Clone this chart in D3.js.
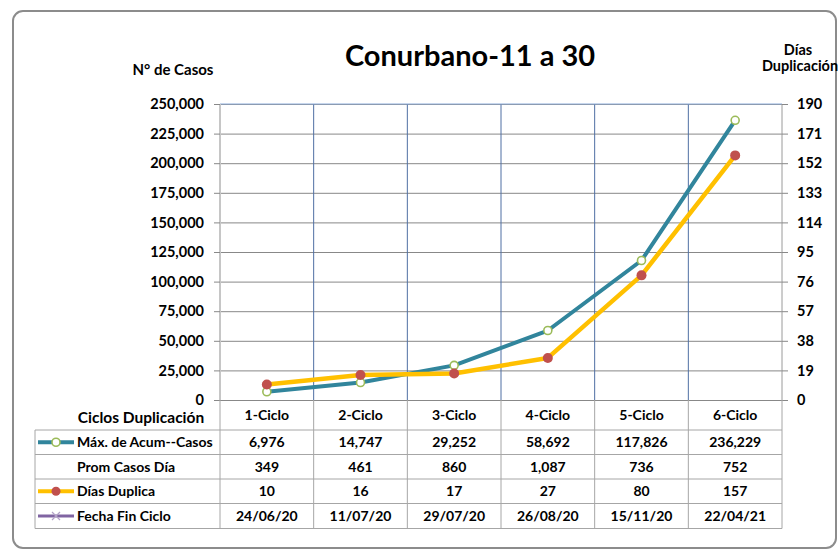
<!DOCTYPE html>
<html>
<head>
<meta charset="utf-8">
<script src="https://cdn.jsdelivr.net/npm/d3@7"></script>
<style>
  body { margin: 0; background: #fff; }
  text { font-family: Lato, "Open Sans", sans-serif; font-weight: bold; fill: #000; }
</style>
</head>
<body>
<div id="chart"></div>
<script>
// data
var ciclos = ['1-Ciclo', '2-Ciclo', '3-Ciclo', '4-Ciclo', '5-Ciclo', '6-Ciclo'];
var maxAcumCasos = [6976, 14747, 29252, 58692, 117826, 236229];
var promCasosDia = [349, 461, 860, 1087, 736, 752];
var diasDuplica = [10, 16, 17, 27, 80, 157];
var fechaFinCiclo = ['24/06/20', '11/07/20', '29/07/20', '26/08/20', '15/11/20', '22/04/21'];
var leftTicks = d3.range(0, 250001, 25000);
var rightTicks = d3.range(0, 191, 19);

var svg = d3.select("#chart").append("svg").attr("width", 839).attr("height", 552);

var plot = {left: 220, right: 782, top: 104, bottom: 400};

// outer frame
svg.append("rect")
  .attr("x", 13).attr("y", 11).attr("width", 823).attr("height", 537)
  .attr("rx", 10).attr("ry", 10)
  .attr("fill", "#fff").attr("stroke", "#8c8c8c").attr("stroke-width", 2);

var x = d3.scaleBand().domain(ciclos).range([plot.left, plot.right]);
var yL = d3.scaleLinear().domain([0, 250000]).range([plot.bottom, plot.top]);
var yR = d3.scaleLinear().domain([0, 190]).range([plot.bottom, plot.top]);

// horizontal grid
svg.append("g")
  .attr("transform", "translate(" + plot.left + ",0)")
  .call(d3.axisLeft(yL).tickValues(leftTicks).tickSize(-(plot.right - plot.left)).tickFormat(""))
  .call(function (g) { g.select(".domain").remove(); })
  .selectAll("line").attr("stroke", "#888");

// vertical column lines inside plot
var bounds = ciclos.map(function (d) { return x(d); }).concat([plot.right]);
svg.selectAll(".vgrid")
  .data(bounds.slice(1, -1))
  .enter().append("line")
  .attr("class", "vgrid")
  .attr("x1", function (d) { return d; }).attr("x2", function (d) { return d; })
  .attr("y1", plot.top).attr("y2", plot.bottom)
  .attr("stroke", "#4f6fa3").attr("stroke-width", 1);

// plot border
svg.append("line").attr("x1", plot.left).attr("x2", plot.right).attr("y1", plot.top).attr("y2", plot.top)
  .attr("stroke", "#8eaedc").attr("stroke-width", 1.2);
svg.append("line").attr("x1", plot.left).attr("x2", plot.left).attr("y1", plot.top).attr("y2", plot.bottom)
  .attr("stroke", "#c6c6c6").attr("stroke-width", 2);
svg.append("line").attr("x1", plot.right).attr("x2", plot.right).attr("y1", plot.top).attr("y2", plot.bottom)
  .attr("stroke", "#9a9a9a").attr("stroke-width", 1);

// left axis
var gL = svg.append("g")
  .attr("transform", "translate(" + plot.left + ",0)")
  .call(d3.axisLeft(yL).tickValues(leftTicks).tickSize(6).tickPadding(10).tickFormat(d3.format(",")));
gL.select(".domain").remove();
gL.selectAll("line").attr("stroke", "#888");
gL.selectAll("text").style("font-size", "14.5px").style("font-family", "Lato, sans-serif");

// right axis
var gR = svg.append("g")
  .attr("transform", "translate(" + plot.right + ",0)")
  .call(d3.axisRight(yR).tickValues(rightTicks).tickSize(6).tickPadding(9));
gR.select(".domain").remove();
gR.selectAll("line").attr("stroke", "#888");
gR.selectAll("text").style("font-size", "14.5px").style("font-family", "Lato, sans-serif");

// titles
svg.append("text").attr("x", 470).attr("y", 66).attr("text-anchor", "middle")
  .style("font-size", "29px").text("Conurbano-11 a 30");
svg.append("text").attr("x", 173).attr("y", 75).attr("text-anchor", "middle")
  .style("font-size", "15px").text("N° de Casos");
svg.append("text").attr("x", 798).attr("y", 55).attr("text-anchor", "middle")
  .style("font-size", "14.5px").text("Días");
svg.append("text").attr("x", 800).attr("y", 71).attr("text-anchor", "middle")
  .style("font-size", "14.5px").text("Duplicación");

// lines
var cx = function (i) { return x(ciclos[i]) + x.bandwidth() / 2; };

svg.append("path")
  .datum(maxAcumCasos)
  .attr("fill", "none").attr("stroke", "#31859c").attr("stroke-width", 4)
  .attr("stroke-linejoin", "round")
  .attr("d", d3.line().x(function (d, i) { return cx(i); }).y(function (d) { return yL(d); }));

svg.append("path")
  .datum(diasDuplica)
  .attr("fill", "none").attr("stroke", "#ffc000").attr("stroke-width", 4.5)
  .attr("stroke-linejoin", "round")
  .attr("d", d3.line().x(function (d, i) { return cx(i); }).y(function (d) { return yR(d); }));

svg.selectAll(".mAcum")
  .data(maxAcumCasos)
  .enter().append("circle")
  .attr("class", "mAcum")
  .attr("cx", function (d, i) { return cx(i); })
  .attr("cy", function (d) { return yL(d); })
  .attr("r", 4)
  .attr("fill", "#fff").attr("stroke", "#9bbb59").attr("stroke-width", 1.6);

svg.selectAll(".mDias")
  .data(diasDuplica)
  .enter().append("circle")
  .attr("class", "mDias")
  .attr("cx", function (d, i) { return cx(i); })
  .attr("cy", function (d) { return yR(d); })
  .attr("r", 5)
  .attr("fill", "#c0504d");

// data table
var rowTop = [430, 454.5, 479, 503.5, 528.5];
var tableLeft = 35;
var gridColor = "#a6a6a6";

// header row column lines
svg.selectAll(".hcol")
  .data(bounds)
  .enter().append("line")
  .attr("class", "hcol")
  .attr("x1", function (d) { return d; }).attr("x2", function (d) { return d; })
  .attr("y1", plot.bottom).attr("y2", rowTop[4])
  .attr("stroke", gridColor).attr("stroke-width", 1);

svg.selectAll(".hrow")
  .data(rowTop)
  .enter().append("line")
  .attr("class", "hrow")
  .attr("x1", tableLeft).attr("x2", plot.right)
  .attr("y1", function (d) { return d; }).attr("y2", function (d) { return d; })
  .attr("stroke", gridColor).attr("stroke-width", 1);

svg.append("line").attr("x1", tableLeft).attr("x2", tableLeft)
  .attr("y1", rowTop[0]).attr("y2", rowTop[4])
  .attr("stroke", gridColor);

// header labels
svg.append("text").attr("x", 141).attr("y", 418).attr("text-anchor", "middle")
  .attr("dy", "0.35em").style("font-size", "15.5px").text("Ciclos Duplicación");
svg.selectAll(".catLabel")
  .data(ciclos)
  .enter().append("text")
  .attr("class", "catLabel")
  .attr("x", function (d) { return x(d) + x.bandwidth() / 2; })
  .attr("y", 415).attr("dy", "0.35em").attr("text-anchor", "middle")
  .style("font-size", "14px")
  .text(function (d) { return d; });

var fmt = d3.format(",");
var rows = [
  {label: "Máx. de Acum--Casos", values: maxAcumCasos.map(fmt), line: "#31859c", marker: "open"},
  {label: "Prom Casos Día", values: promCasosDia.map(fmt), line: null},
  {label: "Días Duplica", values: diasDuplica.map(fmt), line: "#ffc000", marker: "dot"},
  {label: "Fecha Fin Ciclo", values: fechaFinCiclo, line: "#8064a2", marker: "x"}
];

rows.forEach(function (r, k) {
  var cy = (rowTop[k] + rowTop[k + 1]) / 2;
  svg.append("text").attr("x", 77).attr("y", cy).attr("dy", "0.35em")
    .style("font-size", "14px").text(r.label);
  svg.selectAll(".cell" + k)
    .data(r.values)
    .enter().append("text")
    .attr("class", "cell" + k)
    .attr("x", function (d, i) { return cx(i); })
    .attr("y", cy).attr("dy", "0.35em").attr("text-anchor", "middle")
    .style("font-size", "14px")
    .text(function (d) { return d; });
  if (r.line) {
    svg.append("line").attr("x1", 38).attr("x2", 74).attr("y1", cy).attr("y2", cy)
      .attr("stroke", r.line).attr("stroke-width", r.marker === "x" ? 3 : 4);
    if (r.marker === "open") {
      svg.append("circle").attr("cx", 56).attr("cy", cy).attr("r", 4)
        .attr("fill", "#fff").attr("stroke", "#9bbb59").attr("stroke-width", 1.6);
    } else if (r.marker === "dot") {
      svg.append("circle").attr("cx", 56).attr("cy", cy).attr("r", 4.5).attr("fill", "#c0504d");
    } else {
      svg.append("path").attr("d", "M52," + (cy - 4) + "L60," + (cy + 4) + "M52," + (cy + 4) + "L60," + (cy - 4))
        .attr("stroke", "#b3a2c7").attr("stroke-width", 1.2);
    }
  }
});
</script>
</body>
</html>
